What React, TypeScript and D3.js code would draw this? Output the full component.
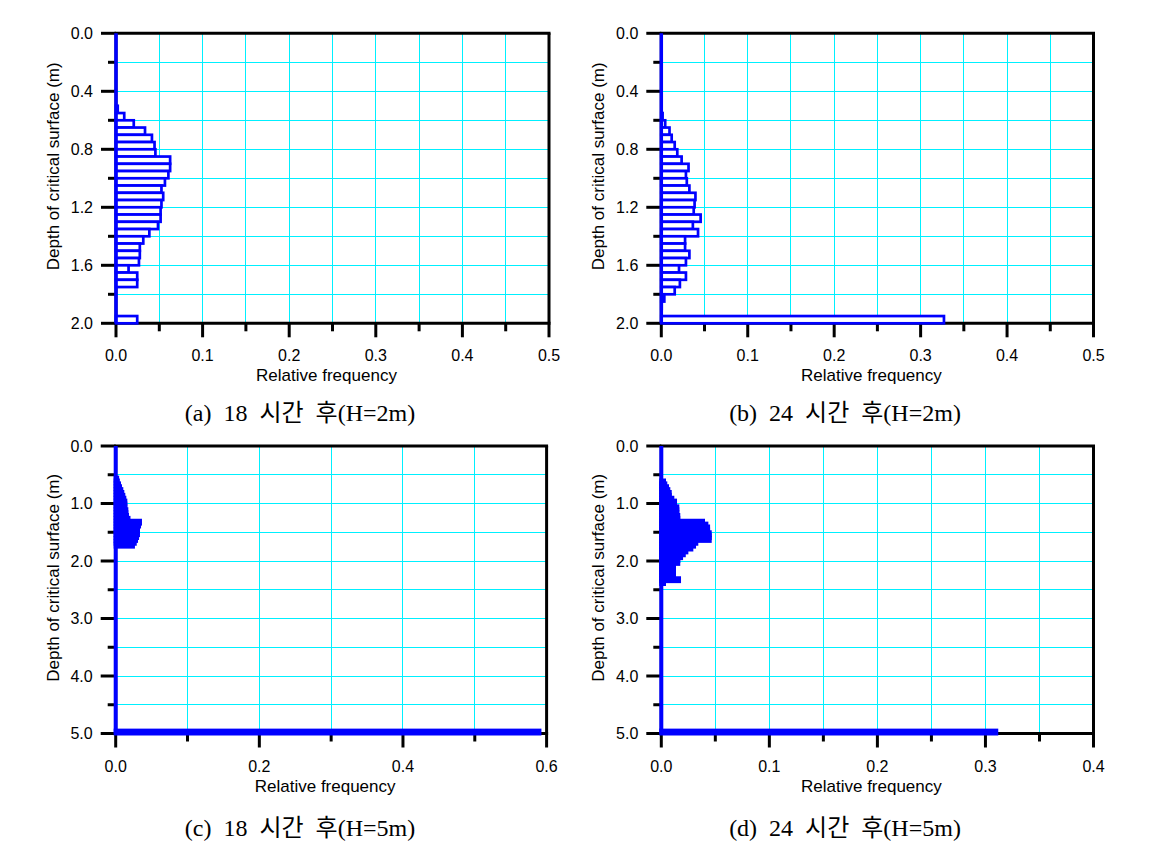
import React from 'react';
import * as d3 from 'd3';

// ---------- data (relative frequency per depth bin) ----------
// (a) 18 h, H=2m : bins of 0.05 m starting at 0.50 m
const aBinStart = 0.5;
const aBinWidth = 0.05;
const aValues = [
  0.002, 0.0095, 0.0205, 0.0335, 0.0415, 0.0445, 0.0455, 0.0625, 0.0625, 0.0605,
  0.0565, 0.0525, 0.0545, 0.0525, 0.0515, 0.0515, 0.0485, 0.0385, 0.0315, 0.0275,
  0.0275, 0.0265, 0.0145, 0.0245, 0.0245, 0, 0, 0, 0, 0.0245,
];

// (b) 24 h, H=2m : bins of 0.05 m starting at 0.55 m
const bBinStart = 0.55;
const bBinWidth = 0.05;
const bValues = [
  0.0015, 0.0045, 0.0095, 0.012, 0.0155, 0.0185, 0.0235, 0.0315, 0.0285, 0.0295,
  0.0325, 0.0395, 0.0385, 0.0375, 0.0455, 0.0365, 0.0425, 0.0275, 0.0275, 0.0325,
  0.0285, 0.0205, 0.0285, 0.0215, 0.0155, 0.0035, 0.0005, 0, 0.327,
];

// (c) 18 h, H=5m : bins of 0.05 m starting at 0.55 m, plus last bin at 4.95 m
const cBinStart = 0.55;
const cBinWidth = 0.05;
const cValues = [
  0.002, 0.003, 0.0046, 0.006, 0.0078, 0.0092, 0.0106, 0.012, 0.0134, 0.0134,
  0.0134, 0.0148, 0.0148, 0.0157, 0.0178, 0.0338, 0.0325, 0.031, 0.031, 0.031,
  0.0297, 0.0283, 0.0265, 0.024,
];
const cTailDepth = 4.95;
const cTailValue = 0.59;

// (d) 24 h, H=5m : bins of 0.05 m starting at 0.60 m, plus last bin at 4.95 m
const dBinStart = 0.6;
const dBinWidth = 0.05;
const dValues = [
  0.0025, 0.0037, 0.0053, 0.0065, 0.0078, 0.0078, 0.0102, 0.0127, 0.0127, 0.0148,
  0.0148, 0.0148, 0.0157, 0.0157, 0.0386, 0.0417, 0.0433, 0.0433, 0.0448, 0.0448,
  0.0448, 0.0324, 0.0303, 0.0278, 0.0232, 0.0208, 0.0183, 0.0157, 0.0157, 0.0117,
  0.0117, 0.0117, 0.0117, 0.0117, 0.0164, 0.0025,
];
const dTailDepth = 4.95;
const dTailValue = 0.31;

// ---------- ticks ----------
const xMajor05 = [0, 0.1, 0.2, 0.3, 0.4, 0.5];
const xMinor05 = [0.05, 0.15, 0.25, 0.35, 0.45];
const yMajor2 = [0, 0.4, 0.8, 1.2, 1.6, 2.0];
const yMinor2 = [0.2, 0.6, 1.0, 1.4, 1.8];
const xMajor06 = [0, 0.2, 0.4, 0.6];
const xMinor06 = [0.1, 0.3, 0.5];
const xMajor04 = [0, 0.1, 0.2, 0.3, 0.4];
const xMinor04 = [0.05, 0.15, 0.25, 0.35];
const yMajor5 = [0, 1, 2, 3, 4, 5];
const yMinor5 = [0.5, 1.5, 2.5, 3.5, 4.5];

const captions = [
  '(a)  18  시간  후(H=2m)',
  '(b)  24  시간  후(H=2m)',
  '(c)  18  시간  후(H=5m)',
  '(d)  24  시간  후(H=5m)',
];

const xTitle = 'Relative frequency';
const yTitle = 'Depth of critical surface (m)';

type Bin = { d0: number; d1: number; v: number };

function makeBins(start: number, width: number, values: number[]): Bin[] {
  return values.map((v, i) => ({ d0: start + i * width, d1: start + (i + 1) * width, v }));
}

type PanelCfg = {
  x0: number; x1: number; y0: number; y1: number;
  xMax: number; yMax: number;
  xMajor: number[]; xMinor: number[]; yMajor: number[]; yMinor: number[];
  bins: Bin[];
  filled: boolean;
  caption: string;
  captionX: number; captionY: number;
};

const SANS = "'Liberation Sans', Arial, Helvetica, sans-serif";
const SERIF = "'Liberation Serif', 'Times New Roman', 'Noto Sans CJK KR', serif";
const BLUE = '#0000FF';
const GRID = '#00F0FF';

function Panel({ cfg }: { cfg: PanelCfg }) {
  const x = d3.scaleLinear().domain([0, cfg.xMax]).range([cfg.x0, cfg.x1]);
  const y = d3.scaleLinear().domain([0, cfg.yMax]).range([cfg.y0, cfg.y1]);
  const fmt = d3.format('.1f');
  const gridX = [...cfg.xMajor, ...cfg.xMinor].filter((t) => t > 0 && t < cfg.xMax - 1e-9);
  const gridY = [...cfg.yMajor, ...cfg.yMinor].filter((t) => t > 0 && t < cfg.yMax - 1e-9);
  const sw = cfg.filled ? 4 : 2.7;
  const cx = (cfg.x0 + cfg.x1) / 2;
  const cy = (cfg.y0 + cfg.y1) / 2;
  return (
    <g>
      {/* grid */}
      <g stroke={GRID} strokeWidth={1} shapeRendering="crispEdges">
        {gridX.map((t) => (
          <line key={'gx' + t} x1={x(t)} x2={x(t)} y1={y(0)} y2={y(cfg.yMax)} />
        ))}
        {gridY.map((t) => (
          <line key={'gy' + t} x1={x(0)} x2={x(cfg.xMax)} y1={y(t)} y2={y(t)} />
        ))}
      </g>
      {/* frame */}
      <g stroke="#000" strokeWidth={3} fill="none">
        <line x1={x(0) - 1.5} x2={x(cfg.xMax) + 1.5} y1={y(0)} y2={y(0)} />
        <line x1={x(0) - 1.5} x2={x(cfg.xMax) + 1.5} y1={y(cfg.yMax)} y2={y(cfg.yMax)} />
        <line x1={x(0)} x2={x(0)} y1={y(0)} y2={y(cfg.yMax)} />
        <line x1={x(cfg.xMax)} x2={x(cfg.xMax)} y1={y(0)} y2={y(cfg.yMax)} />
        {cfg.yMajor.map((t) => (
          <line key={'ym' + t} x1={x(0) - 15} x2={x(0)} y1={y(t)} y2={y(t)} />
        ))}
        {cfg.yMinor.map((t) => (
          <line key={'yn' + t} x1={x(0) - 8} x2={x(0)} y1={y(t)} y2={y(t)} />
        ))}
        {cfg.xMajor.map((t) => (
          <line key={'xm' + t} x1={x(t)} x2={x(t)} y1={y(cfg.yMax)} y2={y(cfg.yMax) + 14} />
        ))}
        {cfg.xMinor.map((t) => (
          <line key={'xn' + t} x1={x(t)} x2={x(t)} y1={y(cfg.yMax)} y2={y(cfg.yMax) + 8} />
        ))}
      </g>
      {/* bars */}
      <g stroke={BLUE} strokeWidth={sw} fill={cfg.filled ? BLUE : '#fff'}>
        {cfg.bins
          .filter((b) => b.v > 0)
          .map((b, i) => (
            <rect key={'b' + i} x={x(0)} y={y(b.d0)} width={x(b.v) - x(0)} height={y(b.d1) - y(b.d0)} />
          ))}
      </g>
      <line x1={x(0)} x2={x(0)} y1={y(0)} y2={y(cfg.yMax)} stroke={BLUE} strokeWidth={cfg.filled ? 4 : 3.5} />
      {/* tick labels */}
      <g fontFamily={SANS} fontSize={16} fill="#000">
        {cfg.yMajor.map((t) => (
          <text key={'yl' + t} x={x(0) - 23} y={y(t) + 5.5} textAnchor="end">
            {fmt(t)}
          </text>
        ))}
        {cfg.xMajor.map((t) => (
          <text key={'xl' + t} x={x(t)} y={y(cfg.yMax) + 38} textAnchor="middle">
            {fmt(t)}
          </text>
        ))}
      </g>
      <text x={cx - 6} y={y(cfg.yMax) + 58} textAnchor="middle" fontFamily={SANS} fontSize={17}>
        {xTitle}
      </text>
      <text
        transform={`translate(${x(0) - 57},${cy - 12}) rotate(-90)`}
        textAnchor="middle"
        fontFamily={SANS}
        fontSize={17}
      >
        {yTitle}
      </text>
      <text
        x={cfg.captionX}
        y={cfg.captionY}
        textAnchor="middle"
        fontFamily={SERIF}
        fontSize={24}
        style={{ whiteSpace: 'pre' }}
      >
        {cfg.caption}
      </text>
    </g>
  );
}

export default function App() {
  const panels: PanelCfg[] = [
    {
      x0: 116, x1: 549, y0: 33.3, y1: 323.3, xMax: 0.5, yMax: 2,
      xMajor: xMajor05, xMinor: xMinor05, yMajor: yMajor2, yMinor: yMinor2,
      bins: makeBins(aBinStart, aBinWidth, aValues), filled: false,
      caption: captions[0], captionX: 300, captionY: 421,
    },
    {
      x0: 661.3, x1: 1093.5, y0: 33.3, y1: 323.3, xMax: 0.5, yMax: 2,
      xMajor: xMajor05, xMinor: xMinor05, yMajor: yMajor2, yMinor: yMinor2,
      bins: makeBins(bBinStart, bBinWidth, bValues), filled: false,
      caption: captions[1], captionX: 845, captionY: 421,
    },
    {
      x0: 115.7, x1: 546.6, y0: 446, y1: 733.5, xMax: 0.6, yMax: 5,
      xMajor: xMajor06, xMinor: xMinor06, yMajor: yMajor5, yMinor: yMinor5,
      bins: [
        ...makeBins(cBinStart, cBinWidth, cValues),
        { d0: cTailDepth, d1: cTailDepth + cBinWidth, v: cTailValue },
      ],
      filled: true,
      caption: captions[2], captionX: 300, captionY: 836,
    },
    {
      x0: 661.3, x1: 1093.5, y0: 446, y1: 733.5, xMax: 0.4, yMax: 5,
      xMajor: xMajor04, xMinor: xMinor04, yMajor: yMajor5, yMinor: yMinor5,
      bins: [
        ...makeBins(dBinStart, dBinWidth, dValues),
        { d0: dTailDepth, d1: dTailDepth + dBinWidth, v: dTailValue },
      ],
      filled: true,
      caption: captions[3], captionX: 845, captionY: 836,
    },
  ];
  return (
    <svg
      width={1151}
      height={848}
      viewBox="0 0 1151 848"
      style={{ position: 'absolute', left: 0, top: 0, background: '#fff' }}
    >
      <rect x={0} y={0} width={1151} height={848} fill="#fff" />
      {panels.map((p, i) => (
        <Panel key={i} cfg={p} />
      ))}
    </svg>
  );
}
